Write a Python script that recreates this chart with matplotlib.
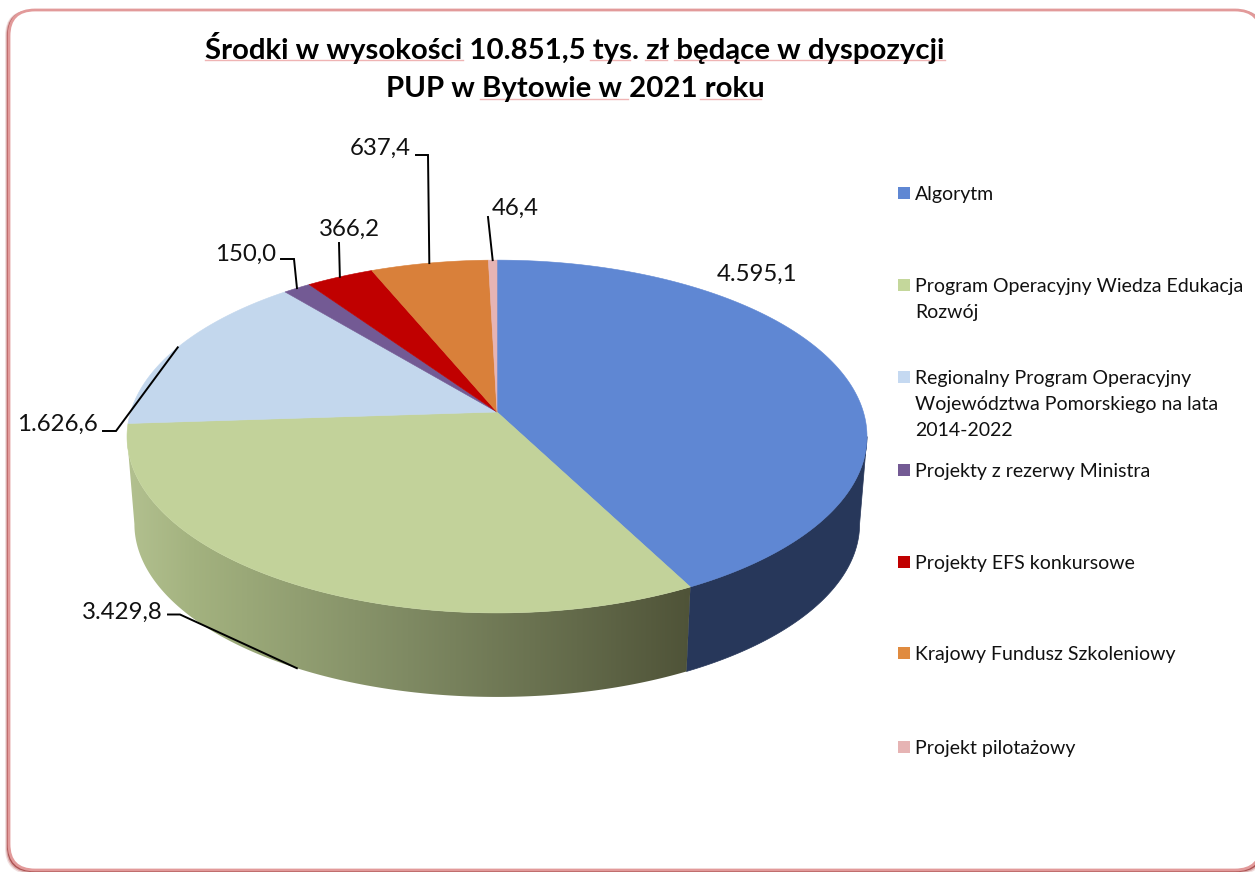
import numpy as np
import matplotlib
matplotlib.use("Agg")
import matplotlib.pyplot as plt
from matplotlib.colors import LinearSegmentedColormap
from matplotlib.patches import FancyBboxPatch, Polygon, Rectangle

plt.rcParams['font.family'] = ['Lato', 'DejaVu Sans']

categories = [
    "Algorytm",
    "Program Operacyjny Wiedza Edukacja\nRozwój",
    "Regionalny Program Operacyjny\nWojewództwa Pomorskiego na lata\n2014-2022",
    "Projekty z rezerwy Ministra",
    "Projekty EFS konkursowe",
    "Krajowy Fundusz Szkoleniowy",
    "Projekt pilotażowy",
]
values = [4595.1, 3429.8, 1626.6, 150.0, 366.2, 637.4, 46.4]
value_labels = ["4.595,1", "3.429,8", "1.626,6", "150,0", "366,2", "637,4", "46,4"]
top_colors = ["#5F87D3", "#C2D29A", "#C3D7ED", "#735A94", "#C00000", "#D9803A", "#E6B4B4"]
legend_colors = ["#5F87D3", "#C4D79B", "#C5D9F1", "#735A94", "#C00000", "#E08B3F", "#E6B4B4"]
wall_colors = ["#27375A", "#4F5338", "#6A7686", "#3A2E4C", "#600000", "#6E411D", "#755B5B"]

title_lines = ["Środki w wysokości 10.851,5 tys. zł będące w dyspozycji",
               "PUP w Bytowie w 2021 roku"]

# pixel layout of the pie (perspective disc, 12 o'clock start, clockwise)
CX, APEX_Y = 497.0, 412.0
RX, RY, K = 366.4, 173.0, 0.139
SHRINK, VANISH_Y = 0.98, 4813.0
# part of the rim that faces the viewer
FRONT_FROM = np.degrees(np.arccos(-K))
FRONT_TO = 360 - FRONT_FROM


def top_rim(deg):
    t = np.radians(deg)
    x_u, y_u = np.sin(t), np.cos(t)
    d = 1 + K * y_u
    return CX + RX * x_u / d, APEX_Y - RY * y_u / d


def bottom_rim(deg):
    x, y = top_rim(deg)
    return CX + (x - CX) * SHRINK, VANISH_Y - SHRINK * (VANISH_Y - y)


def arc(start, stop):
    return np.linspace(start, stop, max(int(stop - start) * 3, 8))


fig = plt.figure(figsize=(12.55, 8.72), dpi=100)
ax = fig.add_axes([0, 0, 1, 1])
ax.axis('off')

# rounded frame with its soft shadow
for off, col, alpha in [(4, "#C98080", 0.25), (3, "#B86060", 0.4), (2, "#A03C3C", 0.8)]:
    ax.add_patch(FancyBboxPatch((9 - off, 10), 1252 + 2 * off, 860 + off,
                                boxstyle="round,pad=0,rounding_size=26",
                                fc=col, ec="none", alpha=alpha, zorder=0))
ax.add_patch(FancyBboxPatch((9, 10), 1252, 860, boxstyle="round,pad=0,rounding_size=26",
                            fc="white", ec="#E29A9A", lw=2, zorder=0.5))

shares = np.array(values) / sum(values) * 360
stops = np.cumsum(shares)
starts = stops - shares
mids = starts + shares / 2

# side wall, the green slice carries a horizontal gradient
green_cmap = LinearSegmentedColormap.from_list(
    "wall", [(0, "#B3C190"), (0.12, "#A3B27F"), (0.5, "#7F8A63"), (0.8, "#636A4A"), (1, "#4F5338")])
for i in range(len(values)):
    a0, a1 = max(starts[i], FRONT_FROM), min(stops[i], FRONT_TO)
    if a1 <= a0:
        continue
    a = arc(a0, a1)
    xt, yt = top_rim(a)
    xb, yb = bottom_rim(a)
    pts = np.column_stack([np.r_[xt, xb[::-1]], np.r_[yt, yb[::-1]]])
    wall = Polygon(pts, closed=True, fc=wall_colors[i], ec=wall_colors[i], lw=0.5, zorder=1)
    ax.add_patch(wall)
    if i == 1:
        wall.set_facecolor("none")
        wall.set_edgecolor("none")
        im = ax.imshow(np.linspace(0, 1, 256)[None, :], cmap=green_cmap, aspect='auto',
                       extent=(xt.min() - 2, xt.max(), yb.max() + 2, yt.min() - 2), zorder=1.1)
        im.set_clip_path(wall)

# top face
for i in range(len(values)):
    xt, yt = top_rim(arc(starts[i], stops[i]))
    pts = np.column_stack([np.r_[CX, xt], np.r_[APEX_Y, yt]])
    ax.add_patch(Polygon(pts, closed=True, fc=top_colors[i], ec=top_colors[i], lw=0.4, zorder=2))

# value labels with leader lines ending on the slice rim
label_xy = [(757, 274, 'center'), (163, 612, 'right'), (98, 424, 'right'), (276, 254, 'right'),
            (349, 229, 'center'), (411, 148, 'right'), (515, 208, 'center')]
for (x, y, ha), txt in zip(label_xy, value_labels):
    ax.text(x, y, txt, fontsize=17.3, ha=ha, va='center', color="#111111", zorder=4)

leader_starts = [None, [(168, 614.5), (180, 614.5)], [(103, 431), (116, 431)],
                 [(281, 259), (294, 259)], [(339, 243)], [(416, 155), (428, 155)], [(488, 217)]]
for i, lead in enumerate(leader_starts):
    if lead is None:
        continue
    end = bottom_rim(mids[i]) if i == 1 else top_rim(mids[i])
    xs = [p[0] for p in lead] + [end[0]]
    ys = [p[1] for p in lead] + [end[1]]
    ax.plot(xs, ys, color="black", lw=1.4, solid_joinstyle='miter', zorder=3)

# legend
legend_y = [193, 285, 377, 470, 562, 653, 747]
for name, col, y in zip(categories, legend_colors, legend_y):
    ax.add_patch(Rectangle((898, y - 6), 12, 12, fc=col, ec="none", zorder=3))
    for j, line in enumerate(name.split("\n")):
        ax.text(915, y + 1 + j * 26, line, fontsize=14.05, va='center', ha='left',
                color="#111111", zorder=4)

# title
ax.text(575, 48, title_lines[0], fontsize=21.2, fontweight='bold', ha='center', va='center',
        color="black", zorder=4)
ax.text(575, 89, title_lines[1], fontsize=21.2, fontweight='bold', ha='center', va='center',
        color="black", zorder=4)
# red proofing underlines that show in the original title
for x0, x1, y in [(205, 463, 60), (590, 630, 60), (645, 667, 60), (674, 945, 60),
                  (480, 628, 99), (700, 761, 99)]:
    ax.plot([x0, x1], [y, y], color="#EFB4B4", lw=1.0, zorder=3.5)

ax.set_xlim(0, 1255)
ax.set_ylim(872, 0)
fig.savefig("out.png", dpi=100, facecolor="white")
